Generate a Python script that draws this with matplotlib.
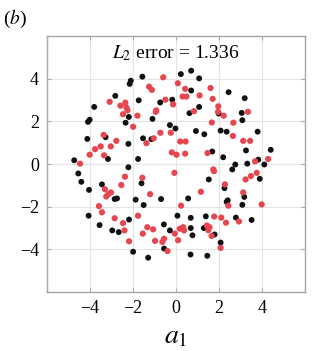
import numpy as np
import matplotlib
matplotlib.use("Agg")
import matplotlib.pyplot as plt

plt.rcParams['font.family'] = ['Liberation Serif', 'DejaVu Serif']
plt.rcParams['mathtext.fontset'] = 'stix'

# black points (reference)
black_x = [-2.11, -2.16, -1.57, 0.22, 0.70, 1.07, 0.70, -2.83, -1.74, -3.81, -0.74, -0.18,
           2.44, 3.19, 1.07, 0.62, 3.05, -2.20, -1.10, -4.10, -4.02, 3.08, -2.35, 1.98,
           -0.29, -0.03, 0.92, 1.31, 2.07, 2.35, 3.79, -4.13, -3.28, -1.54, -1.15, -2.22,
           1.68, 3.25, 2.19, 3.82, 4.40, -4.74, -3.17, -1.77, 2.75, 2.61, 3.31, 4.10,
           -4.55, -4.41, -2.22, 1.52, 3.89, -3.45, -4.05, -2.86, -2.75, -1.61, -1.88, -1.51,
           -0.70, 0.56, 2.25, 2.35, 2.40, 3.17, 3.08, -4.07, -3.56, -2.19, 0.06, 0.68,
           1.38, 2.78, 3.51, -2.97, -2.67, -0.57, -0.29, 0.68, 0.76, 1.29, 1.79, 2.07,
           -2.00, -1.30, -0.56, 0.67, 1.45]
black_y = [3.91, 3.76, 4.10, 4.22, 4.38, 4.02, 3.45, 3.20, 2.99, 2.68, 2.89, 3.02,
           3.37, 3.09, 2.68, 2.39, 2.40, 2.21, 2.12, 1.98, 2.08, 2.06, 1.94, 2.37,
           1.83, 1.67, 1.55, 1.40, 1.57, 1.52, 1.52, 1.18, 1.26, 1.21, 1.17, 0.95,
           0.59, 0.64, 0.32, 0.21, 0.67, 0.18, 0.24, 0.24, -0.02, -0.25, 0.02, -0.02,
           -0.44, -0.83, -0.15, -0.72, -0.69, -0.95, -1.21, -1.64, -1.61, -0.90, -1.67, -1.92,
           -1.64, -1.61, -1.13, -1.77, -1.70, -1.54, -1.91, -2.42, -2.86, -2.60, -2.42, -2.52,
           -2.45, -2.51, -2.62, -3.11, -3.19, -2.83, -3.11, -3.00, -3.34, -3.00, -3.30, -3.68,
           -4.11, -4.39, -3.96, -4.24, -4.30]

# red points (prediction)
red_x = [-0.60, -1.26, -1.13, 0.08, 0.42, 0.30, 0.48, 1.60, 1.09, 1.70, -3.09, -2.36,
         -2.59, -2.31, -2.26, -0.92, -0.50, -0.14, 1.96, 2.21, 3.34, -1.80, 1.66, 1.95,
         -2.47, -0.95, 0.83, 2.66, -2.00, -3.37, -3.51, -3.77, -4.02, -3.35, -3.04, -2.78,
         -1.38, -1.04, -0.73, -0.25, 0.19, 0.44, -0.20, 0.02, 0.42, 1.46, 2.64, 3.12,
         3.44, -4.47, 1.73, 1.76, -0.08, 3.23, 3.48, 3.75, 3.67, 4.28, -2.38, -2.55,
         -1.57, -3.31, -3.15, -3.25, -3.03, -1.21, 0.23, 1.15, 2.27, 3.12, 3.98, -3.59,
         -3.45, -2.86, -1.77, -1.34, 0.33, 1.43, 1.55, 1.77, 2.10, 2.43, 2.92, -2.40,
         -2.47, -2.19, -1.55, -1.07, -0.98, -0.64, -0.56, -0.40, -0.06, 0.09, 0.17, 0.37,
         1.50, 1.65, 2.07, 2.32]
red_y = [4.07, 3.63, 3.48, 3.79, 3.53, 3.17, 3.17, 3.57, 3.22, 3.06, 2.92, 2.88,
         2.74, 2.65, 2.52, 2.52, 3.02, 2.80, 2.71, 2.27, 2.45, 2.27, 1.95, 2.45,
         2.34, 2.45, 2.48, 1.94, 1.75, 1.37, 0.83, 0.70, 0.44, 0.41, 0.83, 1.09,
         0.98, 1.21, 1.47, 1.47, 1.06, 1.06, 0.55, 0.44, 0.49, 0.52, 1.32, 1.09,
         1.09, 0.02, -0.25, -0.33, -0.41, -0.72, -0.56, -0.41, 0.13, 0.24, -0.59, -0.98,
         -0.64, -1.18, -1.41, -1.52, -1.33, -1.41, -1.95, -1.30, -0.95, -1.33, -1.89, -1.97,
         -2.26, -2.54, -2.42, -2.96, -2.96, -2.88, -2.96, -2.46, -2.51, -1.95, -2.69, -3.11,
         -2.77, -3.62, -3.26, -3.06, -3.60, -3.65, -3.50, -4.08, -3.26, -3.57, -3.03, -3.11,
         -3.10, -3.37, -3.93, -2.75]

ticks = [-6, -4, -2, 0, 2, 4, 6]
tick_labels = ['', '\u22124', '\u22122', '0', '2', '4', '']
err_text = r'$L_2$ error = 1.336'

fig = plt.figure(figsize=(3.12, 3.51), dpi=100)
ax = fig.add_axes([0.151, 0.168, 0.827, 0.729])

ax.scatter(black_x, black_y, s=18, color='#111111', edgecolors='none', zorder=3)
ax.scatter(red_x, red_y, s=20, color='#e6464f', edgecolors='none', zorder=3)

ax.set_xlim(-6, 6)
ax.set_ylim(-6, 6)
ax.set_xticks(ticks)
ax.set_xticklabels(tick_labels)
ax.set_yticks(ticks)
ax.set_yticklabels(tick_labels)
ax.grid(True, color='#e4e4e4', linewidth=0.8)
ax.set_axisbelow(True)
ax.tick_params(direction='in', length=3, color='#aaaaaa', labelsize=13, pad=6,
               top=True, right=True)
for sp in ax.spines.values():
    sp.set_color('#a8a8a8')
    sp.set_linewidth(1.0)

ax.text(0.5, 0.935, err_text, transform=ax.transAxes, ha='center', va='center', fontsize=14)
ax.set_xlabel(r'$a_1$', fontsize=20, labelpad=5)
fig.text(0.01, 0.947, r'($b$)', fontsize=14, ha='left', va='center')

fig.savefig('out.png', dpi=100)
